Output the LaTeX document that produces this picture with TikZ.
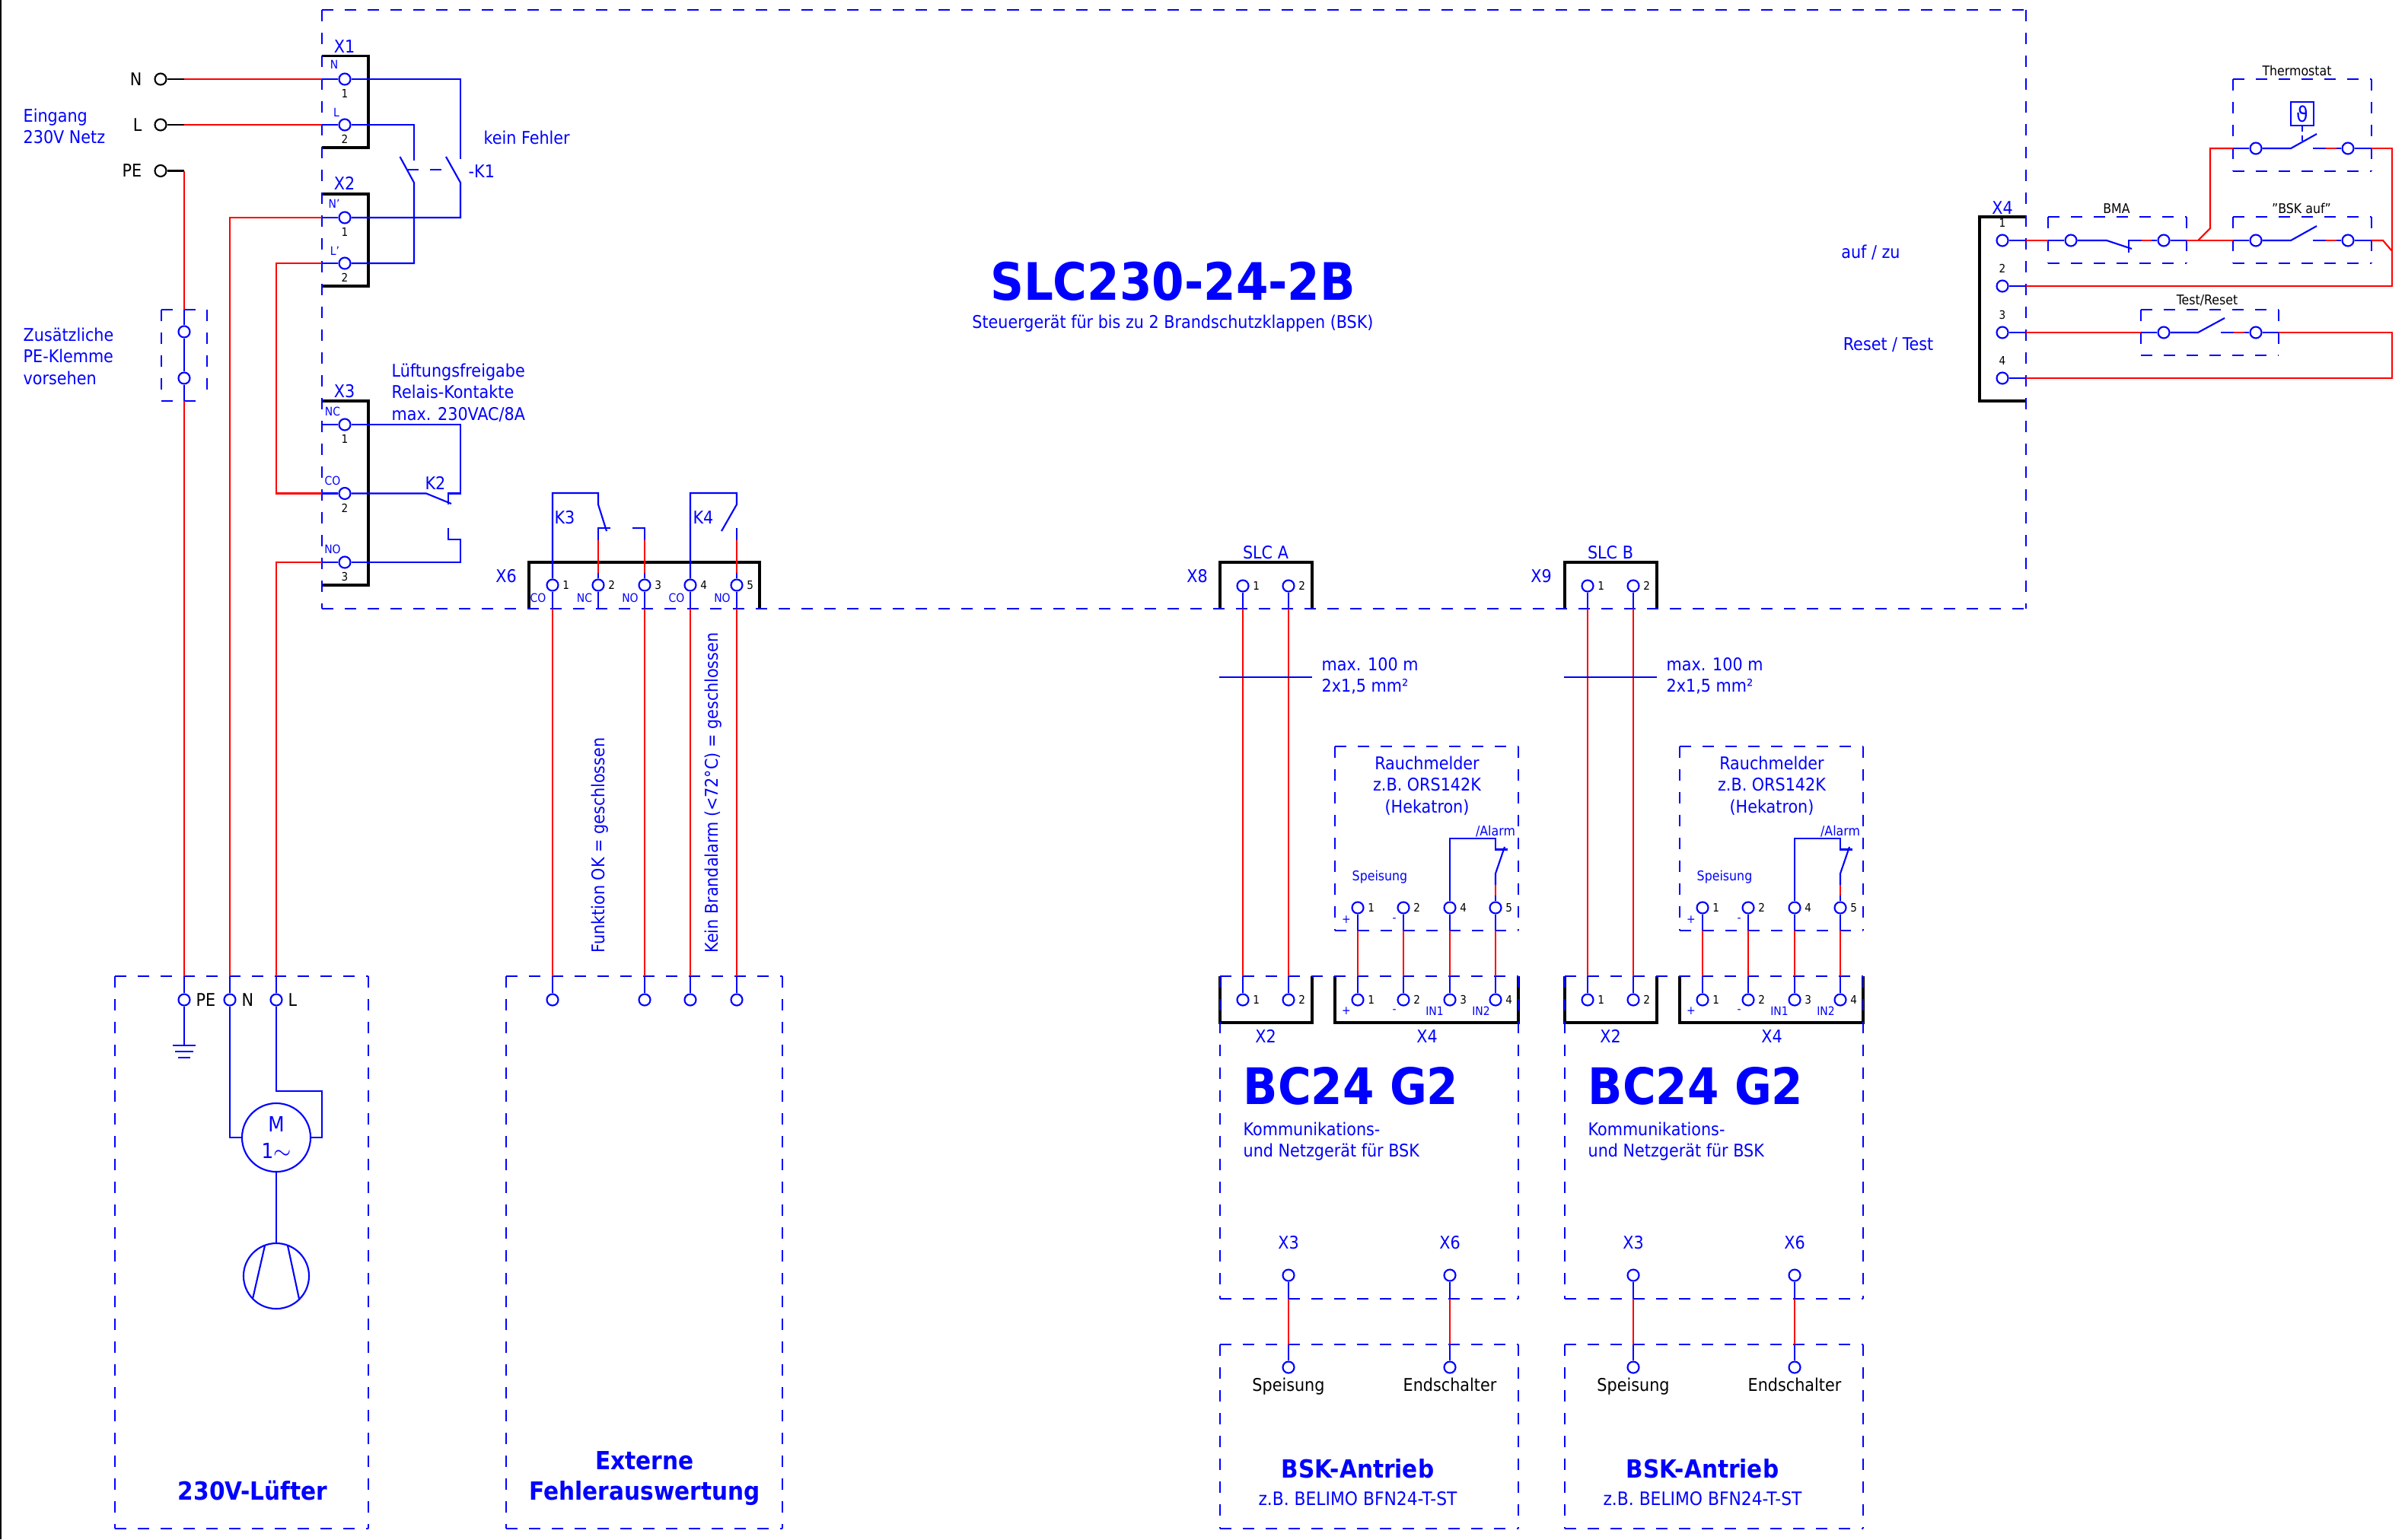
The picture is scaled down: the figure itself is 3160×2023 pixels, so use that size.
\documentclass[tikz,border=0pt]{standalone}
\usepackage{fontspec}
\setmainfont{DejaVu Sans Condensed}
\definecolor{blau}{rgb}{0,0,1}
\definecolor{rot}{rgb}{1,0,0}
\newcommand{\gr}[1]{\fontsize{#1}{#1}\selectfont}
% Kasten mit vier einzeln gestrichelten Seiten
\newcommand{\strichbox}[2]{
\draw[strich] (#1) -- (#1 -| #2);
\draw[strich] (#1) -- (#1 |- #2);
\draw[strich] (#1 |- #2) -- (#2);
\draw[strich] (#1 -| #2) -- (#2);
}
\tikzset{
klemme/.style={circle,draw=blau,line width=.6pt,inner sep=0pt,minimum size=.15cm},
klemmes/.style={klemme,draw=black},
ader/.style={draw=blau,line width=.6pt},
aderrot/.style={draw=rot,line width=.6pt},
aderschw/.style={draw=black,line width=.6pt},
kast/.style={draw=black,line width=1.1pt},
strich/.style={draw=blau,line width=.6pt,dash pattern=on .15cm off .15cm},
nr/.style={black,inner sep=0pt,font=\gr{4.3},label distance=.04cm},
nro/.style={nr,label distance=.08cm},
txt/.style={blau,inner sep=0pt,align=left,font=\fontsize{6.55}{8.1}\selectfont},
txtc/.style={txt,align=center},
txts/.style={txt,black},
mini/.style={blau,inner sep=0pt,font=\gr{4.4}},
klein/.style={inner sep=0pt,font=\gr{5}},
fett/.style={blau,inner sep=0pt,align=center,font=\fontsize{9.35}{11.4}\selectfont\bfseries},
}
\begin{document}
\begin{tikzpicture}[x=.01cm,y=-.01cm]
\useasboundingbox (0,0) rectangle (3160,2023);
\draw[black,line width=.5pt] (1,0) -- (1,2023);
% Ecken der gestrichelten Kaesten
\coordinate (M0) at (423,13);
\coordinate (ME) at (2662,800);
\coordinate (PK0) at (212,407);
\coordinate (PKE) at (272,527);
\coordinate (F0) at (151,1283);
\coordinate (FE) at (484,2009);
\coordinate (E0) at (665,1283);
\coordinate (EE) at (1028,2009);
\coordinate (BA0) at (1603,1283);
\coordinate (BAE) at (1995,1707);
\coordinate (AA0) at (1603,1767);
\coordinate (AAE) at (1995,2009);
\coordinate (RA0) at (1754,981);
\coordinate (RAE) at (1995,1223);
\coordinate (BB0) at (2056,1283);
\coordinate (BBE) at (2448,1707);
\coordinate (AB0) at (2056,1767);
\coordinate (ABE) at (2448,2009);
\coordinate (RB0) at (2207,981);
\coordinate (RBE) at (2448,1223);
\coordinate (BM0) at (2691,285);
\coordinate (BME) at (2873,346);
\coordinate (TH0) at (2934,104);
\coordinate (THE) at (3116,225);
\coordinate (AU0) at (2934,285);
\coordinate (AUE) at (3116,346);
\coordinate (TR0) at (2813,407);
\coordinate (TRE) at (2994,467);
% schwarze Klemmleisten
\draw[kast] (423,73.5) -- (484,73.5) -- (484,194) -- (423,194);
\draw[kast] (423,255) -- (484,255) -- (484,376) -- (423,376);
\draw[kast] (423,527) -- (484,527) -- (484,769) -- (423,769);
\draw[kast] (695,800) -- (695,739) -- (998,739) -- (998,800);
\draw[kast] (1603,800) -- (1603,739) -- (1724,739) -- (1724,800);
\draw[kast] (2056,800) -- (2056,739) -- (2177,739) -- (2177,800);
\draw[kast] (2662,285) -- (2601,285) -- (2601,527) -- (2662,527);
\draw[kast] (1603,1283) -- (1603,1344) -- (1724,1344) -- (1724,1283);
\draw[kast] (1754,1283) -- (1754,1344) -- (1995,1344) -- (1995,1283);
\draw[kast] (2056,1283) -- (2056,1344) -- (2177,1344) -- (2177,1283);
\draw[kast] (2207,1283) -- (2207,1344) -- (2448,1344) -- (2448,1283);
% gestrichelte Kaesten
\strichbox{M0}{ME}
\strichbox{PK0}{PKE}
\strichbox{F0}{FE}
\strichbox{E0}{EE}
\strichbox{BA0}{BAE}
\strichbox{AA0}{AAE}
\strichbox{RA0}{RAE}
\strichbox{BB0}{BBE}
\strichbox{AB0}{ABE}
\strichbox{RB0}{RBE}
\strichbox{BM0}{BME}
\strichbox{TH0}{THE}
\strichbox{AU0}{AUE}
\strichbox{TR0}{TRE}
% Klemmen
\node (N) at (211,104) [klemmes] {};
\node (L) at (211,164) [klemmes] {};
\node (PE) at (211,224.5) [klemmes] {};
\coordinate (PEx) at (242,224.5);
\node (PK1) at (242,436) [klemme] {};
\node (PK2) at (242,497) [klemme] {};
\node (X11) at (453,104) [klemme,label={[nr]below:1}] {};
\node (X12) at (453,164) [klemme,label={[nr]below:2}] {};
\node (X21) at (453,286) [klemme,label={[nr]below:1}] {};
\node (X22) at (453,346) [klemme,label={[nr]below:2}] {};
\node (X31) at (453,558) [klemme,label={[nr]below:1}] {};
\node (X32) at (453,648.5) [klemme,label={[nr]below:2}] {};
\node (X33) at (453,739) [klemme,label={[nr]below:3}] {};
\node (X61) at (726,769) [klemme,label={[nr]right:1}] {};
\node (X62) at (786,769) [klemme,label={[nr]right:2}] {};
\node (X63) at (847,769) [klemme,label={[nr]right:3}] {};
\node (X64) at (907,769) [klemme,label={[nr]right:4}] {};
\node (X65) at (968,769) [klemme,label={[nr]right:5}] {};
\node (X81) at (1633,770) [klemme,label={[nr]right:1}] {};
\node (X82) at (1693,770) [klemme,label={[nr]right:2}] {};
\node (X91) at (2086,770) [klemme,label={[nr]right:1}] {};
\node (X92) at (2146,770) [klemme,label={[nr]right:2}] {};
\node (X41) at (2631,316) [klemme,label={[nro]above:1}] {};
\node (X42) at (2631,376) [klemme,label={[nro]above:2}] {};
\node (X43) at (2631,437) [klemme,label={[nro]above:3}] {};
\node (X44) at (2631,497) [klemme,label={[nro]above:4}] {};
\node (FPE) at (242,1314) [klemme] {};
\node (FN) at (302,1314) [klemme] {};
\node (FL) at (363,1314) [klemme] {};
\node (E1) at (726,1314) [klemme] {};
\node (E3) at (847,1314) [klemme] {};
\node (E4) at (907,1314) [klemme] {};
\node (E5) at (968,1314) [klemme] {};
\node (A1) at (1633,1314) [klemme,label={[nr]right:1}] {};
\node (A2) at (1693,1314) [klemme,label={[nr]right:2}] {};
\node (A3) at (1784,1314) [klemme,label={[nr]right:1}] {};
\node (A4) at (1844,1314) [klemme,label={[nr]right:2}] {};
\node (A5) at (1905,1314) [klemme,label={[nr]right:3}] {};
\node (A6) at (1965,1314) [klemme,label={[nr]right:4}] {};
\node (B1) at (2086,1314) [klemme,label={[nr]right:1}] {};
\node (B2) at (2146,1314) [klemme,label={[nr]right:2}] {};
\node (B3) at (2237,1314) [klemme,label={[nr]right:1}] {};
\node (B4) at (2297,1314) [klemme,label={[nr]right:2}] {};
\node (B5) at (2358,1314) [klemme,label={[nr]right:3}] {};
\node (B6) at (2418,1314) [klemme,label={[nr]right:4}] {};
\node (RA1) at (1784,1193) [klemme,label={[nr]right:1}] {};
\node (RA2) at (1844,1193) [klemme,label={[nr]right:2}] {};
\node (RA4) at (1905,1193) [klemme,label={[nr]right:4}] {};
\node (RA5) at (1965,1193) [klemme,label={[nr]right:5}] {};
\node (RB1) at (2237,1193) [klemme,label={[nr]right:1}] {};
\node (RB2) at (2297,1193) [klemme,label={[nr]right:2}] {};
\node (RB4) at (2358,1193) [klemme,label={[nr]right:4}] {};
\node (RB5) at (2418,1193) [klemme,label={[nr]right:5}] {};
\node (SA1) at (1693,1676) [klemme] {};
\node (SA2) at (1905,1676) [klemme] {};
\node (SB1) at (2146,1676) [klemme] {};
\node (SB2) at (2358,1676) [klemme] {};
\node (TA1) at (1693,1797) [klemme] {};
\node (TA2) at (1905,1797) [klemme] {};
\node (TB1) at (2146,1797) [klemme] {};
\node (TB2) at (2358,1797) [klemme] {};
\node (BM1) at (2721,316) [klemme] {};
\node (BM2) at (2843,316) [klemme] {};
\node (AU1) at (2964,316) [klemme] {};
\node (AU2) at (3085,316) [klemme] {};
\node (TH1) at (2964,195) [klemme] {};
\node (TH2) at (3085,195) [klemme] {};
\node (TR1) at (2843,437) [klemme] {};
\node (TR2) at (2964,437) [klemme] {};
% Netzeingang
\draw[aderschw] (N) -- (N -| PEx);
\draw[aderschw] (L) -- (L -| PEx);
\draw[aderschw] (PE) -- (PEx);
\draw[aderrot] (N -| PEx) -- (N -| M0);
\draw[aderrot] (L -| PEx) -- (L -| M0);
\draw[ader] (N -| M0) -- (X11);
\draw[ader] (L -| M0) -- (X12);
\draw[aderrot] (PEx) -- (PK1 |- PK0);
\draw[ader] (PK1 |- PK0) -- (PK1);
\draw[ader] (PK1) -- (PK2);
\draw[ader] (PK2) -- (PK2 |- PKE);
\draw[aderrot] (PK2 |- PKE) -- (FPE |- F0);
\draw[ader] (FPE |- F0) -- (FPE);
% Zuleitung zum Luefter
\draw[ader] (X21) -- (X21 -| M0);
\draw[aderrot] (X21 -| M0) -- (FN |- X21) -- (FN |- F0);
\draw[ader] (FN |- F0) -- (FN);
\draw[ader] (X22) -- (X22 -| M0);
\draw[aderrot] (X22 -| M0) -- (FL |- X22) -- (FL |- X32) -- (X32 -| M0);
\draw[ader] (X32) -- (X32 -| M0);
\draw[ader] (X33) -- (X33 -| M0);
\draw[aderrot] (X33 -| M0) -- (FL |- X33) -- (FL |- F0);
\draw[ader] (FL |- F0) -- (FL);
\draw[ader] (X31) -- (X31 -| M0);
% K1
\coordinate (K1a) at (605,209);
\coordinate (K1b) at (605,240);
\coordinate (K1c) at (544,211);
\coordinate (K1d) at (544,240);
\draw[ader] (X11) -| (K1a);
\draw[ader] (X21) -| (K1b) -- (586,206);
\draw[ader] (X12) -| (K1c);
\draw[ader] (X22) -| (K1d) -- (525.5,206);
\draw[ader] (536,223) -- (550,223);
\draw[ader] (565,223) -- (580,223);
% K2
\coordinate (K2a) at (605,648.5);
\coordinate (K2b) at (589,648.5);
\coordinate (K2c) at (560,648.5);
\coordinate (K2d) at (605,709);
\draw[ader] (X31) -| (K2a) -- (K2b) -- (589,663);
\draw[ader] (X32) -- (K2c) -- (593,662);
\draw[ader] (X33) -| (K2d) -- (589,709) -- (589,694);
% K3 und K4
\coordinate (K3a) at (786,648);
\coordinate (K4a) at (968,648);
\coordinate (Ko) at (0,710);
\coordinate (Ku) at (0,753);
\draw[ader] (X61) |- (K3a) -- (786,663) -- (797,698);
\draw[ader] (X64) |- (K4a) -- (968,663) -- (948,698);
\draw[ader] (X62) -- (X62 |- Ku);
\draw[aderrot] (X62 |- Ku) -- (X62 |- Ko);
\draw[ader] (X62 |- Ko) -- (786,694) -- (802,694);
\draw[ader] (X63) -- (X63 |- Ku);
\draw[aderrot] (X63 |- Ku) -- (X63 |- Ko);
\draw[ader] (X63 |- Ko) -- (847,694) -- (831,694);
\draw[ader] (X65) -- (X65 |- Ku);
\draw[aderrot] (X65 |- Ku) -- (X65 |- Ko);
\draw[ader] (X65 |- Ko) -- (968,694);
% externe Fehlerauswertung
\draw[ader] (X61) -- (X61 |- ME);
\draw[ader] (X62) -- (X62 |- ME);
\draw[ader] (X63) -- (X63 |- ME);
\draw[ader] (X64) -- (X64 |- ME);
\draw[ader] (X65) -- (X65 |- ME);
\draw[aderrot] (X61 |- ME) -- (E1 |- E0);
\draw[aderrot] (X63 |- ME) -- (E3 |- E0);
\draw[aderrot] (X64 |- ME) -- (E4 |- E0);
\draw[aderrot] (X65 |- ME) -- (E5 |- E0);
\draw[ader] (E1 |- E0) -- (E1);
\draw[ader] (E3 |- E0) -- (E3);
\draw[ader] (E4 |- E0) -- (E4);
\draw[ader] (E5 |- E0) -- (E5);
% Erde
\coordinate (GND) at (242,1374);
\draw[ader] (FPE) -- (GND);
\draw[ader] (227,1374) -- (257,1374);
\draw[ader] (230,1382) -- (254,1382);
\draw[ader] (234,1390) -- (250,1390);
% Motor und Ventilator
\node (MOT) at (363,1495) [circle,draw=blau,line width=.6pt,minimum size=.9cm,inner sep=0pt,blau,align=center,font=\fontsize{7.8}{9.8}\selectfont] {M\\1$\sim$};
\node (VEN) at (363,1677) [circle,draw=blau,line width=.6pt,minimum size=.86cm,inner sep=0pt] {};
\coordinate (Mr) at (423,1495);
\coordinate (Mo) at (423,1434);
\draw[ader] (FN) |- (MOT);
\draw[ader] (FL) -- (FL |- Mo) -- (Mo) -- (Mr) -- (MOT);
\draw[ader] (MOT) -- (VEN);
\draw[ader] (348,1637) -- (332,1707);
\draw[ader] (378,1637) -- (393,1707);
% SLC A
\draw[ader] (X81) -- (X81 |- ME);
\draw[ader] (X82) -- (X82 |- ME);
\draw[aderrot] (X81 |- ME) -- (A1 |- BA0);
\draw[aderrot] (X82 |- ME) -- (A2 |- BA0);
\draw[ader] (A1 |- BA0) -- (A1);
\draw[ader] (A2 |- BA0) -- (A2);
\draw[draw=blau,line width=.45pt] (1602,890) -- (1724,890);
\draw[ader] (RA1) -- (RA1 |- RAE);
\draw[ader] (RA2) -- (RA2 |- RAE);
\draw[ader] (RA4) -- (RA4 |- RAE);
\draw[ader] (RA5) -- (RA5 |- RAE);
\draw[aderrot] (RA1 |- RAE) -- (A3 |- BA0);
\draw[aderrot] (RA2 |- RAE) -- (A4 |- BA0);
\draw[aderrot] (RA4 |- RAE) -- (A5 |- BA0);
\draw[aderrot] (RA5 |- RAE) -- (A6 |- BA0);
\draw[ader] (A3 |- BA0) -- (A3);
\draw[ader] (A4 |- BA0) -- (A4);
\draw[ader] (A5 |- BA0) -- (A5);
\draw[ader] (A6 |- BA0) -- (A6);
\coordinate (RAa) at (1965,1102);
\coordinate (RAb) at (1965,1148);
\coordinate (RAc) at (1965,1163);
\coordinate (RAd) at (1965,1177);
\draw[ader] (RA4) |- (RAa) -- (1965,1116.5) -- (1981,1116.5);
\draw[ader] (1977,1113) -- (RAb) -- (RAc);
\draw[aderrot] (RAc) -- (RAd);
\draw[ader] (RAd) -- (RA5);
\draw[ader] (SA1) -- (SA1 |- BAE);
\draw[ader] (SA2) -- (SA2 |- BAE);
\draw[aderrot] (SA1 |- BAE) -- (TA1 |- AA0);
\draw[aderrot] (SA2 |- BAE) -- (TA2 |- AA0);
\draw[ader] (TA1 |- AA0) -- (TA1);
\draw[ader] (TA2 |- AA0) -- (TA2);
% SLC B
\draw[ader] (X91) -- (X91 |- ME);
\draw[ader] (X92) -- (X92 |- ME);
\draw[aderrot] (X91 |- ME) -- (B1 |- BB0);
\draw[aderrot] (X92 |- ME) -- (B2 |- BB0);
\draw[ader] (B1 |- BB0) -- (B1);
\draw[ader] (B2 |- BB0) -- (B2);
\draw[draw=blau,line width=.45pt] (2055,890) -- (2177,890);
\draw[ader] (RB1) -- (RB1 |- RBE);
\draw[ader] (RB2) -- (RB2 |- RBE);
\draw[ader] (RB4) -- (RB4 |- RBE);
\draw[ader] (RB5) -- (RB5 |- RBE);
\draw[aderrot] (RB1 |- RBE) -- (B3 |- BB0);
\draw[aderrot] (RB2 |- RBE) -- (B4 |- BB0);
\draw[aderrot] (RB4 |- RBE) -- (B5 |- BB0);
\draw[aderrot] (RB5 |- RBE) -- (B6 |- BB0);
\draw[ader] (B3 |- BB0) -- (B3);
\draw[ader] (B4 |- BB0) -- (B4);
\draw[ader] (B5 |- BB0) -- (B5);
\draw[ader] (B6 |- BB0) -- (B6);
\coordinate (RBa) at (2418,1102);
\coordinate (RBb) at (2418,1148);
\coordinate (RBc) at (2418,1163);
\coordinate (RBd) at (2418,1177);
\draw[ader] (RB4) |- (RBa) -- (2418,1116.5) -- (2434,1116.5);
\draw[ader] (2430,1113) -- (RBb) -- (RBc);
\draw[aderrot] (RBc) -- (RBd);
\draw[ader] (RBd) -- (RB5);
\draw[ader] (SB1) -- (SB1 |- BBE);
\draw[ader] (SB2) -- (SB2 |- BBE);
\draw[aderrot] (SB1 |- BBE) -- (TB1 |- AB0);
\draw[aderrot] (SB2 |- BBE) -- (TB2 |- AB0);
\draw[ader] (TB1 |- AB0) -- (TB1);
\draw[ader] (TB2 |- AB0) -- (TB2);
% X4 mit BMA, Thermostat, "BSK auf" und Test/Reset
\coordinate (BMa) at (2768,316);
\coordinate (BMb) at (2797,332);
\coordinate (BMc) at (2814,316);
\coordinate (BMd) at (2827,316);
\coordinate (Ja) at (2888,316);
\coordinate (Jb) at (2904,300);
\coordinate (Jc) at (3131,316);
\coordinate (Jd) at (3143,330);
\coordinate (RS) at (3143,195);
\draw[ader] (X41) -- (X41 -| ME);
\draw[aderrot] (X41 -| ME) -- (X41 -| BM0);
\draw[ader] (X41 -| BM0) -- (BM1);
\draw[ader] (BM1) -- (BMa) -- (2801,327);
\draw[ader] (BMb) |- (BMc);
\draw[aderrot] (BMc) -- (BMd);
\draw[ader] (BMd) -- (BM2);
\draw[ader] (BM2) -- (BM2 -| BME);
\draw[aderrot] (BM2 -| BME) -- (BM2 -| AU0);
\draw[aderrot] (Ja) -- (Jb) -- (Jb |- TH1) -- (TH1 -| TH0);
\draw[ader] (BM2 -| AU0) -- (AU1);
\draw[ader] (AU1) -- (3010,316) -- (3044,297);
\draw[ader] (3039,316) -- (3056,316);
\draw[aderrot] (3056,316) -- (3070,316);
\draw[ader] (3070,316) -- (AU2);
\draw[ader] (AU2) -- (AU2 -| AUE);
\draw[aderrot] (AU2 -| AUE) -- (Jc) -- (Jd);
\draw[ader] (TH1 -| TH0) -- (TH1);
\draw[ader] (TH1) -- (3010,195) -- (3044,176);
\draw[ader] (3039,195) -- (3056,195);
\draw[aderrot] (3056,195) -- (3070,195);
\draw[ader] (3070,195) -- (TH2);
\draw[ader] (TH2) -- (TH2 -| THE);
\draw[aderrot] (TH2 -| THE) -- (RS) -- (RS |- X42) -- (X42 -| ME);
\draw[ader] (X42 -| ME) -- (X42);
\draw[ader] (X43) -- (X43 -| ME);
\draw[aderrot] (X43 -| ME) -- (X43 -| TR0);
\draw[ader] (X43 -| TR0) -- (TR1);
\draw[ader] (TR1) -- (2888,437) -- (2923,418);
\draw[ader] (2918,437) -- (2935,437);
\draw[aderrot] (2935,437) -- (2949,437);
\draw[ader] (2949,437) -- (TR2);
\draw[ader] (TR2) -- (TR2 -| TRE);
\draw[aderrot] (TR2 -| TRE) -- (RS |- TR2) -- (RS |- X44) -- (X44 -| ME);
\draw[ader] (X44 -| ME) -- (X44);
\node (THS) at (3025,149.5) [draw=blau,line width=.6pt,blau,minimum width=.3cm,minimum height=.31cm,inner sep=0pt,font=\gr{8}] {ϑ};
\draw[ader,dash pattern=on .07cm off .05cm] (THS) -- (3025,187);
% Beschriftung links
\node (tN) at (187,104) [txts,anchor=east] {N};
\node (tL) at (187,164) [txts,anchor=east] {L};
\node (tPE) at (187,224.5) [txts,anchor=east] {PE};
\node (tEin) at (30,166) [txt,anchor=west] {Eingang\\230V Netz};
\node (tZus) at (30,468) [txt,anchor=west] {Zusätzliche\\PE-Klemme\\vorsehen};
\node (tX1) at (452.5,61) [txt] {X1};
\node (tX2) at (452.5,241) [txt] {X2};
\node (tX3) at (452.5,514) [txt] {X3};
\node (tFeh) at (635,181) [txt,anchor=west] {kein Fehler};
\node (tK1) at (615,225) [txt,anchor=west] {-K1};
\node (tK2) at (572,635) [txt] {K2};
\node (tLue) at (514,516) [txt,anchor=west] {Lüftungsfreigabe\\Relais-Kontakte\\max. 230VAC/8A};
\node (mN) at (439,85) [mini] {N};
\node (mL) at (442,148) [mini] {L};
\node (mN2) at (439,268) [mini] {N'};
\node (mL2) at (440,330) [mini] {L'};
\node (mNC) at (437,541) [mini] {NC};
\node (mCO) at (437,632) [mini] {CO};
\node (mNO) at (437,722) [mini] {NO};
% Beschriftung X6
\node (tX6) at (665,757) [txt] {X6};
\node (tK3) at (742,680) [txt] {K3};
\node (tK4) at (924,680) [txt] {K4};
\node (m1) at (707,786) [mini] {CO};
\node (m2) at (768,786) [mini] {NC};
\node (m3) at (828,786) [mini] {NO};
\node (m4) at (889,786) [mini] {CO};
\node (m5) at (949,786) [mini] {NO};
\node (tFun) at (788,1253) [txt,rotate=90,anchor=west] {Funktion OK = geschlossen};
\node (tBra) at (937,1253) [txt,rotate=90,anchor=west] {Kein Brandalarm (<72°C) = geschlossen};
% Titel
\node (tSLC) at (1541,370) [blau,inner sep=0pt,font=\gr{19.3}\bfseries] {SLC230-24-2B};
\node (tSte) at (1541,425) [txt] {Steuergerät für bis zu 2 Brandschutzklappen (BSK)};
\node (tAuf) at (2458,332) [txt] {auf / zu};
\node (tRes) at (2481,453) [txt] {Reset / Test};
\node (tX4o) at (2631,273) [txt] {X4};
\node (tBMA) at (2781,274) [klein] {BMA};
\node (tBSK) at (3024,274) [klein] {"BSK auf"};
\node (tThe) at (3018,93) [klein] {Thermostat};
\node (tTes) at (2900,395) [klein] {Test/Reset};
% Luefter und Auswertung
\node (tPEf) at (257,1314) [txts,anchor=west] {PE};
\node (tNf) at (317,1314) [txts,anchor=west] {N};
\node (tLf) at (378,1314) [txts,anchor=west] {L};
\node (tLuef) at (332,1959) [fett] {230V-Lüfter};
\node (tExt) at (847,1943) [fett] {Externe\\Fehlerauswertung};
% Beschriftung SLC A
\node (tX8) at (1573,757) [txt] {X8};
\node (tSA) at (1663,726) [txt] {SLC A};
\node (tMaxA) at (1736,888.5) [txt,anchor=west] {max. 100 m\\2x1,5 mm²};
\node (tRaA) at (1875,1032.5) [txtc] {Rauchmelder\\z.B. ORS142K\\(Hekatron)};
\node (tSpA) at (1813,1153) [klein,blau] {Speisung};
\node (tAlA) at (1965,1093) [klein,blau] {/Alarm};
\node (pA1) at (1769,1209) [mini] {+};
\node (pA2) at (1832,1209) [mini] {-};
\node (pA3) at (1769,1329) [mini] {+};
\node (pA4) at (1832,1329) [mini] {-};
\node (iA1) at (1885,1329) [mini] {IN1};
\node (iA2) at (1946,1329) [mini] {IN2};
\node (tX2a) at (1663,1362) [txt] {X2};
\node (tX4a) at (1875,1362) [txt] {X4};
\node (tBCa) at (1633,1427) [blau,anchor=west,inner sep=0pt,font=\gr{18.8}\bfseries] {BC24 G2};
\node (tKoa) at (1633,1500) [txt,anchor=west] {Kommunikations-\\und Netzgerät für BSK};
\node (tX3a) at (1693,1633) [txt] {X3};
\node (tX6a) at (1905,1633) [txt] {X6};
\node (tSpa) at (1693,1822) [txts,align=center] {Speisung};
\node (tEna) at (1905,1820) [txts,align=center] {Endschalter};
\node (tAna) at (1784,1930) [fett] {BSK-Antrieb};
\node (tBea) at (1784,1970) [txt,align=center,font=\gr{6.9}] {z.B. BELIMO BFN24-T-ST};
% Beschriftung SLC B
\node (tX9) at (2025,757) [txt] {X9};
\node (tSB) at (2116,726) [txt] {SLC B};
\node (tMaxB) at (2189,888.5) [txt,anchor=west] {max. 100 m\\2x1,5 mm²};
\node (tRaB) at (2328,1032.5) [txtc] {Rauchmelder\\z.B. ORS142K\\(Hekatron)};
\node (tSpB) at (2266,1153) [klein,blau] {Speisung};
\node (tAlB) at (2418,1093) [klein,blau] {/Alarm};
\node (pB1) at (2222,1209) [mini] {+};
\node (pB2) at (2285,1209) [mini] {-};
\node (pB3) at (2222,1329) [mini] {+};
\node (pB4) at (2285,1329) [mini] {-};
\node (iB1) at (2338,1329) [mini] {IN1};
\node (iB2) at (2399,1329) [mini] {IN2};
\node (tX2b) at (2116,1362) [txt] {X2};
\node (tX4b) at (2328,1362) [txt] {X4};
\node (tBCb) at (2086,1427) [blau,anchor=west,inner sep=0pt,font=\gr{18.8}\bfseries] {BC24 G2};
\node (tKob) at (2086,1500) [txt,anchor=west] {Kommunikations-\\und Netzgerät für BSK};
\node (tX3b) at (2146,1633) [txt] {X3};
\node (tX6b) at (2358,1633) [txt] {X6};
\node (tSpb) at (2146,1822) [txts,align=center] {Speisung};
\node (tEnb) at (2358,1820) [txts,align=center] {Endschalter};
\node (tAnb) at (2237,1930) [fett] {BSK-Antrieb};
\node (tBeb) at (2237,1970) [txt,align=center,font=\gr{6.9}] {z.B. BELIMO BFN24-T-ST};
\end{tikzpicture}
\end{document}
